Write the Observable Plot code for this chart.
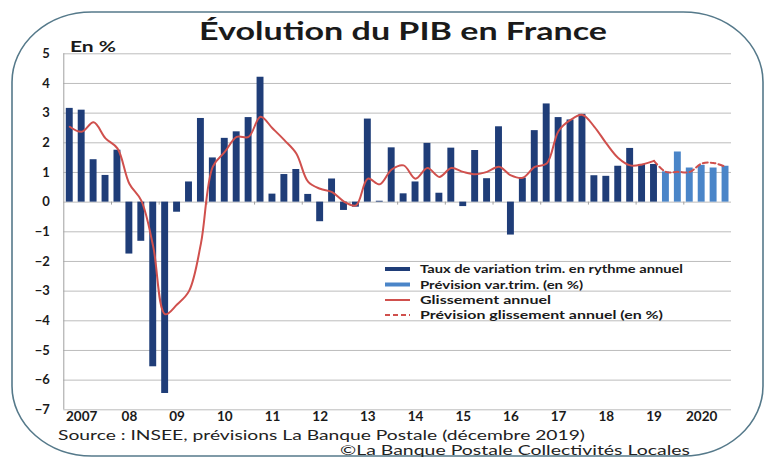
<!DOCTYPE html>
<html><head><meta charset="utf-8">
<script src="https://cdn.jsdelivr.net/npm/d3@7"></script>
<script src="https://cdn.jsdelivr.net/npm/@observablehq/plot@0.6"></script>
<style>
html,body{margin:0;padding:0;background:#fff;}
#wrap{position:relative;width:767px;height:459px;overflow:hidden;font-family:Lato,sans-serif;}
#deco,#legend{position:absolute;left:0;top:0;}
#chart{position:absolute;left:0;top:35px;}
#chart g[aria-label^="x-axis"] text{font-size:13.5px;}
</style></head><body>
<div id="wrap">
<svg id="deco" width="767" height="459">
  <rect x="12" y="12" width="751" height="444" rx="80" ry="70" fill="none" stroke="#55798a" stroke-width="1.6"/>
  <text x="199" y="40" font-family="Lato" font-weight="bold" font-size="25" fill="#1a1a1a" textLength="408" lengthAdjust="spacingAndGlyphs">Évolution du PIB en France</text>
  <text x="70" y="52" font-family="Lato" font-weight="bold" font-size="15" fill="#1a1a1a" textLength="46" lengthAdjust="spacingAndGlyphs">En %</text>
  <text x="58" y="440" font-family="Lato" font-size="14" fill="#222" textLength="527" lengthAdjust="spacingAndGlyphs">Source : INSEE, prévisions La Banque Postale (décembre 2019)</text>
  <text x="340" y="455" font-family="Lato" font-size="14" fill="#222" textLength="350" lengthAdjust="spacingAndGlyphs">©La Banque Postale Collectivités Locales</text>
</svg>
<div id="chart"></div>
<svg id="legend" width="767" height="459">
  <line x1="385" x2="410" y1="269" y2="269" stroke="#1f3d78" stroke-width="4"/>
  <text x="420" y="273" font-family="Lato" font-weight="bold" font-size="11.5" fill="#1a1a1a" textLength="263" lengthAdjust="spacingAndGlyphs">Taux de variation trim. en rythme annuel</text>
  <line x1="385" x2="410" y1="284.5" y2="284.5" stroke="#4a85c8" stroke-width="4"/>
  <text x="420" y="288.5" font-family="Lato" font-weight="bold" font-size="11.5" fill="#1a1a1a" textLength="163" lengthAdjust="spacingAndGlyphs">Prévision var.trim. (en %)</text>
  <line x1="385" x2="410" y1="300" y2="300" stroke="#d0504d" stroke-width="2"/>
  <text x="420" y="304" font-family="Lato" font-weight="bold" font-size="11.5" fill="#1a1a1a" textLength="131" lengthAdjust="spacingAndGlyphs">Glissement annuel</text>
  <line x1="385" x2="410" y1="315" y2="315" stroke="#d0504d" stroke-width="2" stroke-dasharray="5,3"/>
  <text x="420" y="319" font-family="Lato" font-weight="bold" font-size="11.5" fill="#1a1a1a" textLength="243" lengthAdjust="spacingAndGlyphs">Prévision glissement annuel (en %)</text>
</svg>
</div>
<script>
// Categories
const years = [2007, 2008, 2009, 2010, 2011, 2012, 2013, 2014, 2015, 2016, 2017, 2018, 2019, 2020];
const yearLabels = ["2007", "08", "09", "10", "11", "12", "13", "14", "15", "16", "17", "18", "19", "2020"];
const quarterNames = ["T1", "T2", "T3", "T4"];
const yTicks = [-7, -6, -5, -4, -3, -2, -1, 0, 1, 2, 3, 4, 5];

// Taux de variation trim. en rythme annuel (2007T1 – 2019T2)
const rateObserved = [
  3.16, 3.10, 1.43, 0.90,
  1.75, -1.75, -1.32, -5.55,
  -6.45, -0.34, 0.68, 2.82,
  1.49, 2.15, 2.37, 2.85,
  4.21, 0.27, 0.93, 1.10,
  0.26, -0.66, 0.78, -0.28,
  -0.17, 2.80, 0.03, 1.83,
  0.28, 0.68, 1.98, 0.30,
  1.82, -0.15, 1.74, 0.79,
  2.54, -1.11, 0.81, 2.41,
  3.31, 2.85, 2.77, 2.96,
  0.89, 0.87, 1.21, 1.81,
  1.27, 1.27
];
// Prévision var. trim. (2019T3 – 2020T4)
const rateForecast = [1.02, 1.69, 1.15, 1.24, 1.15, 1.21];

// Glissement annuel (2007T1 – 2019T2)
const yoyObserved = [
  2.54, 2.37, 2.69, 2.15,
  1.81, 0.62, 0.05, -1.5,
  -3.78, -3.45, -3.0, -1.4,
  1.2, 1.69, 2.2, 2.2,
  2.88, 2.49, 2.09, 1.64,
  0.68, 0.45, 0.34, 0.02,
  -0.11, 0.79, 0.6, 1.1,
  1.24, 0.79, 1.15, 0.85,
  1.15, 1.02, 0.94, 1.02,
  1.19, 0.9, 0.82, 1.19,
  1.30, 2.4, 2.77, 2.94,
  2.54, 1.98, 1.49, 1.24,
  1.27, 1.39
];
// Prévision glissement annuel (2019T3 – 2020T4)
const yoyForecast = [1.02, 1.02, 1.02, 1.30, 1.32, 1.19];

const navy = "#1f3d78", lightBlue = "#4a85c8", red = "#d0504d";

const quarters = years.flatMap(y => quarterNames.map(q => `${y}${q}`));
const nObs = rateObserved.length;
const barsObs = rateObserved.map((v, i) => ({q: quarters[i], v}));
const barsPrev = rateForecast.map((v, i) => ({q: quarters[nObs + i], v}));
const lineObs = yoyObserved.map((v, i) => ({q: quarters[i], v}));
const linePrev = [{q: quarters[nObs - 1], v: yoyObserved[nObs - 1]}]
  .concat(yoyForecast.map((v, i) => ({q: quarters[nObs + i], v})));
const yearStarts = quarters.filter((q, i) => q.endsWith("T1") && i > 0);

const marginLeft = 63.3, marginRight = 36, width = 767;
const step = (width - marginLeft - marginRight) / quarters.length;

const chart = Plot.plot({
  width, height: 395,
  marginTop: 18.3, marginBottom: 20.7, marginLeft, marginRight,
  style: {fontFamily: "Lato, sans-serif", fontSize: "13px", fontWeight: "bold", color: "#1a1a1a", background: "transparent", overflow: "visible"},
  x: {type: "band", domain: quarters, paddingInner: 0.42, paddingOuter: 0.21,
      tickSize: 0, tickPadding: 2, label: null,
      tickFormat: q => q.endsWith("T2") ? yearLabels[years.indexOf(+q.slice(0, 4))] : ""},
  y: {domain: [-7, 5], ticks: yTicks, tickSize: 0, tickPadding: 14, label: null},
  marks: [
    Plot.ruleY(yTicks, {stroke: "#bdbdbd", strokeWidth: 1}),
    Plot.ruleX([quarters[0]], {y1: -7, y2: 5, dx: -step / 2, stroke: "#a0a0a0"}),
    Plot.ruleX(yearStarts, {y1: 0, y2: -0.1, dx: -step / 2, stroke: "#a0a0a0"}),
    Plot.barY(barsObs, {x: "q", y: "v", fill: navy}),
    Plot.barY(barsPrev, {x: "q", y: "v", fill: lightBlue}),
    Plot.line(lineObs, {x: "q", y: "v", stroke: red, strokeWidth: 2, curve: "catmull-rom"}),
    Plot.line(linePrev, {x: "q", y: "v", stroke: red, strokeWidth: 2, strokeDasharray: "5,3", curve: "catmull-rom"})
  ]
});
document.getElementById("chart").appendChild(chart);
</script>
</body></html>
